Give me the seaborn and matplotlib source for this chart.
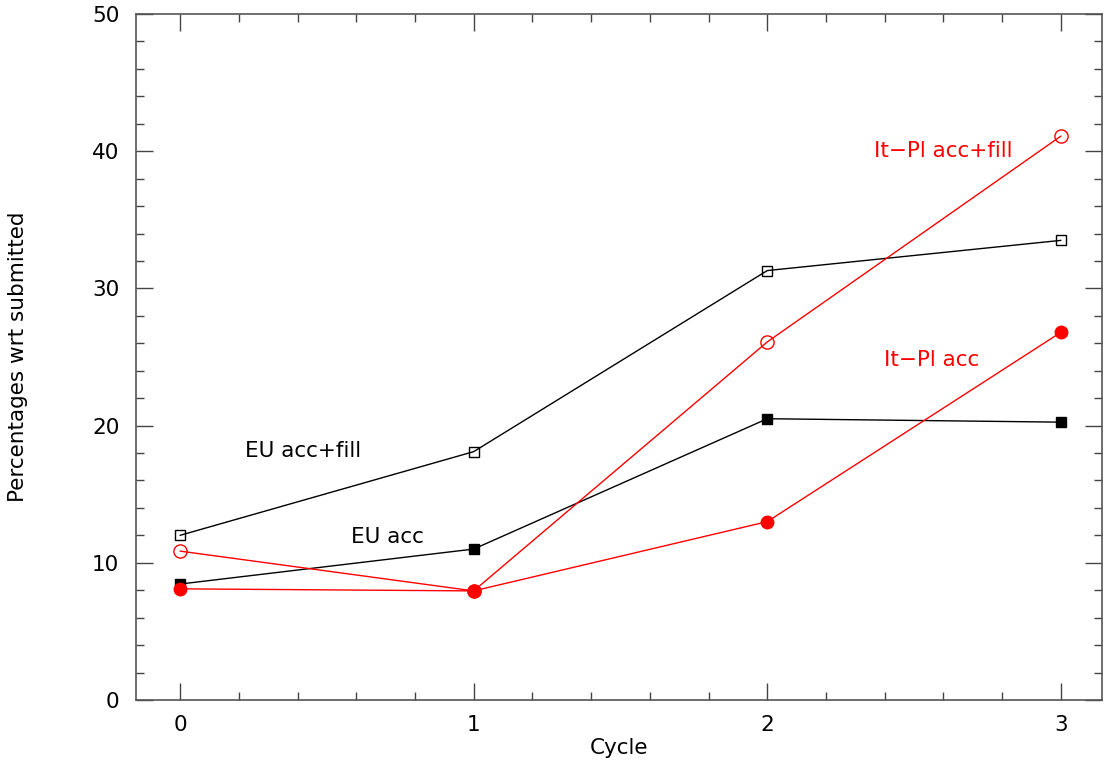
import numpy as np
import pandas as pd
import matplotlib
matplotlib.use("Agg")
import matplotlib.pyplot as plt
from matplotlib.ticker import MultipleLocator
import seaborn as sns

cycles = [0, 1, 2, 3]
eu_acc_fill = [12.0, 18.1, 31.3, 33.5]
eu_acc = [8.45, 11.0, 20.5, 20.25]
itpl_acc_fill = [10.85, 7.95, 26.1, 41.1]
itpl_acc = [8.1, 7.95, 13.0, 26.8]

series_labels = ["EU acc+fill", "EU acc", "It\u2212Pl acc+fill", "It\u2212Pl acc"]

sns.set_style("white")
plt.rcParams['font.family'] = ['DejaVu Sans']
plt.rcParams['text.color'] = 'black'
plt.rcParams['axes.labelcolor'] = 'black'
plt.rcParams['xtick.labelcolor'] = 'black'
plt.rcParams['ytick.labelcolor'] = 'black'

fig = plt.figure(figsize=(11.05, 7.61), dpi=100)
ax = fig.add_axes([0.1231, 0.0802, 0.9973 - 0.1231, 0.9816 - 0.0802])

styles = [
    (eu_acc_fill, "black", "s", "none", 7.5),
    (eu_acc, "black", "s", "black", 7.5),
    (itpl_acc_fill, "red", "o", "none", 9.5),
    (itpl_acc, "red", "o", "red", 9),
]
for vals, col, mk, fc, ms in styles:
    df = pd.DataFrame({"Cycle": cycles, "val": vals})
    sns.lineplot(data=df, x="Cycle", y="val", ax=ax, color=col, lw=1,
                 marker=mk, markersize=ms, markerfacecolor=fc,
                 markeredgecolor=col, markeredgewidth=1)

fs = 15.5
ax.text(0.42, 18.15, series_labels[0], color="black", fontsize=fs,
        ha="center", va="center")
ax.text(0.705, 11.9, series_labels[1], color="black", fontsize=fs,
        ha="center", va="center")
ax.text(2.6, 40.0, series_labels[2], color="red", fontsize=fs,
        ha="center", va="center")
ax.text(2.56, 24.8, series_labels[3], color="red", fontsize=fs,
        ha="center", va="center")

ax.set_xlim(-0.15, 3.14)
ax.set_ylim(0, 50)
ax.xaxis.set_major_locator(MultipleLocator(1))
ax.xaxis.set_minor_locator(MultipleLocator(0.2))
ax.yaxis.set_major_locator(MultipleLocator(10))
ax.yaxis.set_minor_locator(MultipleLocator(2))
ax.tick_params(which="both", direction="in", top=True, right=True,
               bottom=True, left=True, color="#444444", width=1,
               labelsize=fs)
ax.tick_params(axis="x", pad=11)
ax.tick_params(axis="y", pad=12)
ax.tick_params(which="major", length=12)
ax.tick_params(which="minor", length=6)
for s in ax.spines.values():
    s.set_color("#555555")
    s.set_linewidth(1.2)

ax.set_xlabel("Cycle", fontsize=fs, labelpad=2)
ax.set_ylabel("Percentages wrt submitted", fontsize=fs)
ax.yaxis.set_label_coords(-0.112, 0.5)

fig.savefig("out.png", dpi=100)
